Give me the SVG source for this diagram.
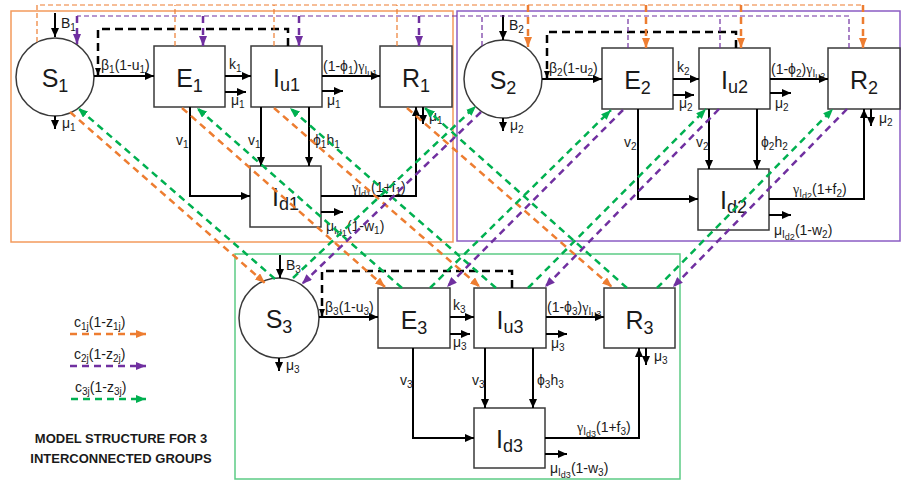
<svg xmlns="http://www.w3.org/2000/svg" width="903" height="481" viewBox="0 0 903 481">
<defs>
<style>
text{font-family:"Liberation Sans",Arial,sans-serif;fill:#1a1a1a}
.lb{font-size:14px}
.s{font-size:10px}
.ss{font-size:9px}
.g{font-family:"Liberation Serif","Times New Roman",serif}
.big{font-size:25px;text-anchor:middle}
.bs{font-size:18px}
.t{font-size:13px;font-weight:bold;text-anchor:middle}
.nd{fill:#fff;stroke:#3a3a3a;stroke-width:1.5}
.ar{fill:none;stroke:#000;stroke-width:2;marker-end:url(#ah)}
.fb{fill:none;stroke:#000;stroke-width:2.5;stroke-dasharray:8 5;marker-end:url(#ahs)}
.fr{fill:none;stroke-width:1.5}
.ot{fill:none;stroke:#ED7D31;stroke-width:1.2;stroke-dasharray:5 3}
.pt{fill:none;stroke:#7030A0;stroke-width:1.2;stroke-dasharray:5 3}
.od{fill:none;stroke:#ED7D31;stroke-width:2.5;stroke-dasharray:7 5;marker-end:url(#ao)}
.pd{fill:none;stroke:#7030A0;stroke-width:2.5;stroke-dasharray:7 5;marker-end:url(#ap)}
.gd{fill:none;stroke:#00B050;stroke-width:2.5;stroke-dasharray:7 5;marker-end:url(#ag)}
</style>
<marker id="ah" markerWidth="9" markerHeight="8" refX="9" refY="4" orient="auto" markerUnits="userSpaceOnUse"><path d="M0,0 L9,4 L0,8 z" fill="#000"/></marker>
<marker id="ahs" markerWidth="7" markerHeight="6" refX="7" refY="3" orient="auto" markerUnits="userSpaceOnUse"><path d="M0,0 L7,3 L0,6 z" fill="#000"/></marker>
<marker id="ao" markerWidth="10" markerHeight="8" refX="10" refY="4" orient="auto" markerUnits="userSpaceOnUse"><path d="M0,0 L10,4 L0,8 z" fill="#ED7D31"/></marker>
<marker id="ap" markerWidth="10" markerHeight="8" refX="10" refY="4" orient="auto" markerUnits="userSpaceOnUse"><path d="M0,0 L10,4 L0,8 z" fill="#7030A0"/></marker>
<marker id="ag" markerWidth="10" markerHeight="8" refX="10" refY="4" orient="auto" markerUnits="userSpaceOnUse"><path d="M0,0 L10,4 L0,8 z" fill="#00B050"/></marker>
</defs>
<rect x="0" y="0" width="903" height="481" fill="#fff"/>

<g id="frames">
<rect class="fr" x="11" y="11" width="442" height="231" stroke="#F39A5C"/>
<rect class="fr" x="457" y="11" width="443" height="230" stroke="#8B5CC4"/>
<rect class="fr" x="235" y="254" width="445" height="225" stroke="#5CCB85"/>
</g>

<g id="group1">
<g id="S1"><circle class="nd" cx="55" cy="77" r="39"/><text class="big" x="55" y="87">S<tspan class="bs" dy="5">1</tspan></text></g>
<g id="E1"><rect class="nd" x="154" y="46" width="71" height="61"/><text class="big" x="189.5" y="87">E<tspan class="bs" dy="5">1</tspan></text></g>
<g id="Iu1"><rect class="nd" x="251" y="46" width="71" height="61"/><text class="big" x="286.5" y="87">I<tspan class="bs" dy="4">u1</tspan></text></g>
<g id="R1"><rect class="nd" x="380" y="46" width="72" height="61"/><text class="big" x="416" y="87">R<tspan class="bs" dy="5">1</tspan></text></g>
<g id="Id1"><rect class="nd" x="250" y="166" width="71" height="61"/><text class="big" x="285.5" y="206">I<tspan class="bs" dy="4">d1</tspan></text></g>
</g>

<g id="group2" transform="translate(448,2)">
<g id="S2"><circle class="nd" cx="55" cy="77" r="39"/><text class="big" x="55" y="87">S<tspan class="bs" dy="5">2</tspan></text></g>
<g id="E2"><rect class="nd" x="154" y="46" width="71" height="61"/><text class="big" x="189.5" y="87">E<tspan class="bs" dy="5">2</tspan></text></g>
<g id="Iu2"><rect class="nd" x="251" y="46" width="71" height="61"/><text class="big" x="286.5" y="87">I<tspan class="bs" dy="4">u2</tspan></text></g>
<g id="R2"><rect class="nd" x="380" y="46" width="72" height="61"/><text class="big" x="416" y="87">R<tspan class="bs" dy="5">2</tspan></text></g>
<g id="Id2"><rect class="nd" x="250" y="167" width="71" height="61"/><text class="big" x="285.5" y="207">I<tspan class="bs" dy="4">d2</tspan></text></g>
</g>

<g id="group3" transform="translate(224,242)">
<g id="S3"><circle class="nd" cx="55" cy="76" r="40"/><text class="big" x="55" y="86">S<tspan class="bs" dy="5">3</tspan></text></g>
<g id="E3"><rect class="nd" x="154" y="46" width="72" height="60"/><text class="big" x="190" y="87">E<tspan class="bs" dy="5">3</tspan></text></g>
<g id="Iu3"><rect class="nd" x="250" y="46" width="72" height="60"/><text class="big" x="286" y="87">I<tspan class="bs" dy="4">u3</tspan></text></g>
<g id="R3"><rect class="nd" x="380" y="46" width="71" height="60"/><text class="big" x="415.5" y="87">R<tspan class="bs" dy="5">3</tspan></text></g>
<g id="Id3"><rect class="nd" x="250" y="166" width="71" height="60"/><text class="big" x="285.5" y="206">I<tspan class="bs" dy="4">d3</tspan></text></g>
</g>

<g id="connectors">
<g id="flows1">
<path class="ar" d="M55,13 V37"/>
<path class="ar" d="M94,76 H154"/>
<path class="ar" d="M225,76 H251"/>
<path class="ar" d="M225,92 H246"/>
<path class="ar" d="M322,76 H380"/>
<path class="ar" d="M322,91 H343"/>
<path class="ar" d="M55,116 V129"/>
<path class="ar" d="M423,107 V124"/>
<path class="ar" d="M190,107 V196 H250"/>
<path class="ar" d="M261,107 V166"/>
<path class="ar" d="M309,107 V166"/>
<path class="ar" d="M321,196 H416 V107"/>
<path class="ar" d="M321,212 H343"/>
<path class="fb" d="M288,46 V29 H98 V75"/>
<text class="lb" x="61" y="28">B<tspan class="s" dy="3">1</tspan></text>
<text class="lb" x="101" y="70">β<tspan class="s" dy="3">1</tspan><tspan dy="-3">(1-u</tspan><tspan class="s" dy="3">1</tspan><tspan dy="-3">)</tspan></text>
<text class="lb" x="229" y="69">k<tspan class="s" dy="3">1</tspan></text>
<text class="lb" x="231" y="105">μ<tspan class="s" dy="3">1</tspan></text>
<text class="lb" x="323" y="71">(1-ϕ<tspan class="s" dy="3">1</tspan><tspan dy="-3">)</tspan><tspan class="g">γ</tspan><tspan class="s" dy="3">I</tspan><tspan class="ss" dy="2">u1</tspan></text>
<text class="lb" x="327" y="105">μ<tspan class="s" dy="3">1</tspan></text>
<text class="lb" x="429" y="121">μ<tspan class="s" dy="3">1</tspan></text>
<text class="lb" x="62" y="128">μ<tspan class="s" dy="3">1</tspan></text>
<text class="lb" x="176" y="145">v<tspan class="s" dy="3">1</tspan></text>
<text class="lb" x="248" y="145">v<tspan class="s" dy="3">1</tspan></text>
<text class="lb" x="313" y="145">ϕ<tspan class="s" dy="3">1</tspan><tspan dy="-3">h</tspan><tspan class="s" dy="3">1</tspan></text>
<text class="lb" x="352" y="192"><tspan class="g">γ</tspan><tspan class="s" dy="3">I</tspan><tspan class="ss" dy="2">d1</tspan><tspan dy="-5">(1+f</tspan><tspan class="s" dy="3">1</tspan><tspan dy="-3">)</tspan></text>
<text class="lb" x="326" y="231">μ<tspan class="s" dy="3">I</tspan><tspan class="ss" dy="2">d1</tspan><tspan dy="-5">(1-w</tspan><tspan class="s" dy="3">1</tspan><tspan dy="-3">)</tspan></text>
</g>
<g id="flows2" transform="translate(448,2)">
<path class="ar" d="M55,13 V38"/>
<path class="ar" d="M94,77 H154"/>
<path class="ar" d="M225,77 H251"/>
<path class="ar" d="M225,93 H246"/>
<path class="ar" d="M322,77 H380"/>
<path class="ar" d="M322,91 H343"/>
<path class="ar" d="M55,116 V129"/>
<path class="ar" d="M423,107 V124"/>
<path class="ar" d="M190,107 V197 H250"/>
<path class="ar" d="M261,107 V167"/>
<path class="ar" d="M309,107 V167"/>
<path class="ar" d="M321,197 H416 V107"/>
<path class="ar" d="M321,213 H343"/>
<path class="fb" d="M288,46 V30 H99 V76"/>
<text class="lb" x="61" y="28">B<tspan class="s" dy="3">2</tspan></text>
<text class="lb" x="101" y="71">β<tspan class="s" dy="3">2</tspan><tspan dy="-3">(1-u</tspan><tspan class="s" dy="3">2</tspan><tspan dy="-3">)</tspan></text>
<text class="lb" x="229" y="70">k<tspan class="s" dy="3">2</tspan></text>
<text class="lb" x="231" y="106">μ<tspan class="s" dy="3">2</tspan></text>
<text class="lb" x="323" y="72">(1-ϕ<tspan class="s" dy="3">2</tspan><tspan dy="-3">)</tspan><tspan class="g">γ</tspan><tspan class="s" dy="3">I</tspan><tspan class="ss" dy="2">u2</tspan></text>
<text class="lb" x="327" y="106">μ<tspan class="s" dy="3">2</tspan></text>
<text class="lb" x="431" y="121">μ<tspan class="s" dy="3">2</tspan></text>
<text class="lb" x="62" y="128">μ<tspan class="s" dy="3">2</tspan></text>
<text class="lb" x="176" y="145">v<tspan class="s" dy="3">2</tspan></text>
<text class="lb" x="248" y="145">v<tspan class="s" dy="3">2</tspan></text>
<text class="lb" x="313" y="145">ϕ<tspan class="s" dy="3">2</tspan><tspan dy="-3">h</tspan><tspan class="s" dy="3">2</tspan></text>
<text class="lb" x="345" y="192"><tspan class="g">γ</tspan><tspan class="s" dy="3">I</tspan><tspan class="ss" dy="2">d2</tspan><tspan dy="-5">(1+f</tspan><tspan class="s" dy="3">2</tspan><tspan dy="-3">)</tspan></text>
<text class="lb" x="326" y="233">μ<tspan class="s" dy="3">I</tspan><tspan class="ss" dy="2">d2</tspan><tspan dy="-5">(1-w</tspan><tspan class="s" dy="3">2</tspan><tspan dy="-3">)</tspan></text>
</g>
<g id="flows3" transform="translate(224,242)">
<path class="ar" d="M56,13 V36"/>
<path class="ar" d="M95,75 H154"/>
<path class="ar" d="M226,75 H250"/>
<path class="ar" d="M226,92 H246"/>
<path class="ar" d="M322,75 H380"/>
<path class="ar" d="M322,92 H343"/>
<path class="ar" d="M55,116 V129"/>
<path class="ar" d="M422,106 V123"/>
<path class="ar" d="M189,106 V196 H250"/>
<path class="ar" d="M261,106 V166"/>
<path class="ar" d="M309,106 V166"/>
<path class="ar" d="M321,196 H415 V106"/>
<path class="ar" d="M321,212 H343"/>
<path class="fb" d="M288,46 V29 H98 V74"/>
<text class="lb" x="62" y="28">B<tspan class="s" dy="3">3</tspan></text>
<text class="lb" x="101" y="70">β<tspan class="s" dy="3">3</tspan><tspan dy="-3">(1-u</tspan><tspan class="s" dy="3">3</tspan><tspan dy="-3">)</tspan></text>
<text class="lb" x="229" y="68">k<tspan class="s" dy="3">3</tspan></text>
<text class="lb" x="229" y="105">μ<tspan class="s" dy="3">3</tspan></text>
<text class="lb" x="323" y="70">(1-ϕ<tspan class="s" dy="3">3</tspan><tspan dy="-3">)</tspan><tspan class="g">γ</tspan><tspan class="s" dy="3">I</tspan><tspan class="ss" dy="2">u3</tspan></text>
<text class="lb" x="327" y="106">μ<tspan class="s" dy="3">3</tspan></text>
<text class="lb" x="430" y="119">μ<tspan class="s" dy="3">3</tspan></text>
<text class="lb" x="62" y="128">μ<tspan class="s" dy="3">3</tspan></text>
<text class="lb" x="176" y="143">v<tspan class="s" dy="3">3</tspan></text>
<text class="lb" x="248" y="143">v<tspan class="s" dy="3">3</tspan></text>
<text class="lb" x="313" y="143">ϕ<tspan class="s" dy="3">3</tspan><tspan dy="-3">h</tspan><tspan class="s" dy="3">3</tspan></text>
<text class="lb" x="353" y="190"><tspan class="g">γ</tspan><tspan class="s" dy="3">I</tspan><tspan class="ss" dy="2">d3</tspan><tspan dy="-5">(1+f</tspan><tspan class="s" dy="3">3</tspan><tspan dy="-3">)</tspan></text>
<text class="lb" x="326" y="231">μ<tspan class="s" dy="3">I</tspan><tspan class="ss" dy="2">d3</tspan><tspan dy="-5">(1-w</tspan><tspan class="s" dy="3">3</tspan><tspan dy="-3">)</tspan></text>
</g>

<g id="contacts">
<path class="ot" d="M37,42 V5 H863"/>
<path class="ot" d="M175,46 V5"/>
<path class="ot" d="M274,46 V5"/>
<path class="ot" d="M397,46 V5"/>
<path class="od" d="M528,5 V47"/>
<path class="od" d="M646,5 V48"/>
<path class="od" d="M741,5 V48"/>
<path class="od" d="M863,5 V48"/>
<path class="pt" d="M849,48 V16 H77"/>
<path class="pt" d="M482,46 V16"/>
<path class="pt" d="M628,48 V16"/>
<path class="pt" d="M720,48 V16"/>
<path class="pd" d="M77,16 V44"/>
<path class="pd" d="M203,16 V46"/>
<path class="pd" d="M299,16 V46"/>
<path class="pd" d="M419,16 V46"/>
<path class="od" d="M70,112 L265,283"/>
<path class="od" d="M182,108 L385,287"/>
<path class="od" d="M274,108 L480,287"/>
<path class="od" d="M407,108 L612,287"/>
<path class="gd" d="M275,279 L78,108"/>
<path class="gd" d="M402,288 L197,108"/>
<path class="gd" d="M496,288 L290,108"/>
<path class="gd" d="M627,288 L425,108"/>
<path class="pd" d="M481,112 L302,284"/>
<path class="pd" d="M623,110 L447,287"/>
<path class="pd" d="M719,109 L545,287"/>
<path class="pd" d="M847,109 L673,287"/>
<path class="gd" d="M293,278 L476,106"/>
<path class="gd" d="M430,288 L611,110"/>
<path class="gd" d="M528,288 L706,109"/>
<path class="gd" d="M657,288 L833,109"/>
</g>
</g>

<g id="legend">
<text class="lb" x="74" y="327">c<tspan class="s" dy="3">1j</tspan><tspan dy="-3">(1-z</tspan><tspan class="s" dy="3">1j</tspan><tspan dy="-3">)</tspan></text>
<path class="od" d="M70,334 H146"/>
<text class="lb" x="74" y="359">c<tspan class="s" dy="3">2j</tspan><tspan dy="-3">(1-z</tspan><tspan class="s" dy="3">2j</tspan><tspan dy="-3">)</tspan></text>
<path class="pd" d="M70,366 H146"/>
<text class="lb" x="75" y="392">c<tspan class="s" dy="3">3j</tspan><tspan dy="-3">(1-z</tspan><tspan class="s" dy="3">3j</tspan><tspan dy="-3">)</tspan></text>
<path class="gd" d="M71,399 H146"/>
<text class="t" x="121" y="443">MODEL STRUCTURE FOR 3</text>
<text class="t" x="121" y="463">INTERCONNECTED GROUPS</text>
</g>
</svg>
